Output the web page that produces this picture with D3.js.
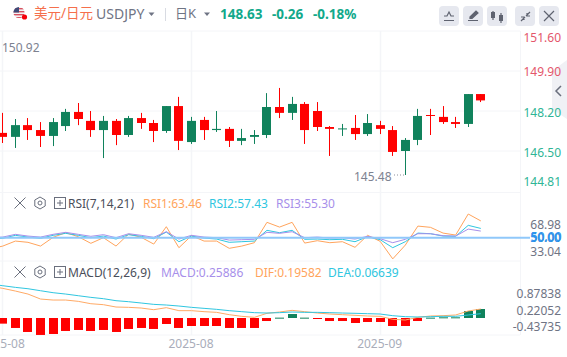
<!DOCTYPE html>
<html>
<head>
<meta charset="utf-8">
<style>
  html, body { margin: 0; padding: 0; background: #fff; overflow: hidden; }
  text { font-family: "Noto Sans", "Noto Sans CJK SC", sans-serif; }
</style>
<script src="https://cdn.jsdelivr.net/npm/d3@7"></script>
</head>
<body>
<svg width="567" height="357"></svg>
<script>
// first entry of every series sits just off the left edge
let opens = [147.30,147.27,147.10,147.60,147.39,147.14,147.56,148.16,147.78,147.39,147.78,147.18,147.90,147.69,147.35,148.41,146.88,147.82,147.39,147.44,146.93,147.10,147.18,148.37,148.12,148.50,148.20,147.52,147.44,147.48,147.22,147.60,147.39,146.50,146.97,148.03,147.95,147.73,147.65,148.92]
let closes = [147.27,147.10,147.60,147.39,147.14,147.73,148.16,147.86,147.39,147.78,147.18,147.90,147.69,147.35,148.41,146.93,147.78,147.39,147.44,146.93,147.05,147.18,148.37,148.12,148.50,147.39,147.52,147.44,147.46,147.22,147.69,147.44,146.46,146.97,147.99,148.00,147.73,147.65,148.92,148.65]
let highs = [147.50,148.12,147.86,147.90,147.73,147.90,148.29,148.54,148.20,147.99,147.86,147.99,148.12,147.82,148.41,148.80,147.95,147.95,148.20,147.52,147.44,147.39,148.96,149.18,148.80,148.58,148.58,147.56,147.65,148.03,148.07,147.78,147.56,147.05,148.29,148.29,148.41,147.95,148.92,148.92]
let lows = [147.10,146.84,146.63,146.97,146.67,146.71,147.35,147.60,147.10,146.20,146.75,147.10,147.44,146.88,147.27,146.54,146.80,146.97,147.31,146.67,146.75,146.80,147.05,147.90,147.82,146.80,147.35,146.29,147.14,146.97,147.14,147.22,146.29,145.48,146.75,147.18,147.65,147.48,147.52,148.58]

let rsi1 = [41,43.3,47.3,46.3,43.3,50.3,54,50.8,45.5,50,43.3,52.9,50.3,44.9,58.8,42,51.6,47.3,47.3,41.5,43.3,46,62.3,58.5,62.3,45.7,47.6,46,46.8,42.3,51.9,47.1,33.04,44.1,59.3,58.3,53.7,52.1,68.98,63.46]
let rsi2 = [49,49.5,51.9,50.5,49.5,51.9,53.5,51.9,50,51.3,48.9,52.4,51.1,49.2,54.5,46.8,51.3,49.7,48.9,46.3,46.8,47.3,55.9,54,55.9,48.7,48.9,48.4,48.7,46.8,50.8,48.4,42,46.8,53.7,53.2,51.3,51.1,59.9,57.43]
let rsi3 = [50,50.5,52.7,51.3,50.5,52.7,54.3,52.7,51.1,52.4,50,53.2,51.9,50.3,54.8,48.9,51.9,50.5,50,48.1,48.4,48.7,54.3,53.5,54.8,50,50.5,49.7,50,48.9,51.1,49.2,46,48.7,53.2,53.2,51.6,51.3,56.9,55.3]

let macdBars = [-.1,-.163,-.288,-.404,-.49,-.462,-.375,-.346,-.375,-.346,-.404,-.317,-.288,-.317,-.173,-.288,-.231,-.231,-.231,-.288,-.288,-.288,-.087,.01,.115,.01,-.01,-.087,-.087,-.144,-.115,-.115,-.231,-.231,-.087,.01,.02,.02,.202,.26]
let dif = [.92,.856,.779,.692,.548,.519,.519,.481,.413,.385,.317,.308,.288,.24,.298,.212,.212,.183,.163,.096,.048,.019,.135,.173,.221,.183,.144,.115,.096,.077,.058,.048,-.038,-.058,.019,.058,.067,.087,.202,.26]
let dea = [.98,.933,.885,.846,.788,.731,.692,.644,.596,.558,.5,.471,.433,.394,.375,.346,.308,.279,.25,.212,.183,.154,.144,.154,.173,.163,.163,.154,.144,.135,.125,.115,.067,.038,.029,.038,.048,.048,.087,.125]

let priceTicks = [151.60,149.90,148.20,146.50,144.81]
let priceTickColors = ['#e4566b','#e4566b','#2fb596','#2fb596','#2fb596']
let priceNudge = [7,1,2,2,-9] // labels are pushed inside the pane
let rsiTicks = [68.98,50.00,33.04]
let rsiNudge = [11,0,-7]
let macdTicks = [0.87838,0.22052,-0.43735]
let macdNudge = [6,0,-6]
let dateTicks = [1,16,31]
let dateLabels = ['2025-08','2025-08','2025-09']

let red = '#ff0000'
let green = '#10825c'
let gridColor = '#f4f5f8'

let svg = d3.select('svg')

let xScale = d3.scaleLinear().domain([1,39]).range([2.8,480.8])
let yPrice = d3.scaleLinear().domain([149.90,146.50]).range([71,151])
let yRsi = d3.scaleLinear().domain([50,68.98]).range([237.7,214])
let yMacd = d3.scaleLinear().domain([0,0.87838]).range([318,287.6])

let indexes = d3.range(opens.length)

let drawGrid = () => {
    let g = svg.append('g')
    let hLines = [31,71,111,151,192.5,261,335]
    g.selectAll('.h').data(hLines).enter().append('line')
        .attr('x1',0).attr('x2',520).attr('y1',d=>d).attr('y2',d=>d)
        .attr('stroke',gridColor).attr('stroke-width',1)
    g.selectAll('.v').data(dateTicks).enter().append('line')
        .attr('x1',d=>Math.floor(xScale(d))+.5).attr('x2',d=>Math.floor(xScale(d))+.5)
        .attr('y1',31).attr('y2',335)
        .attr('stroke',gridColor).attr('stroke-width',1.5)
    g.append('line').attr('x1',520.5).attr('x2',520.5).attr('y1',31).attr('y2',335)
        .attr('stroke',gridColor)
}

let drawCandles = () => {
    let g = svg.append('g')
    let color = i => closes[i] >= opens[i] ? green : red
    g.selectAll('.wick').data(indexes).enter().append('rect')
        .attr('x',i=>Math.floor(xScale(i)))
        .attr('width',1)
        .attr('y',i=>yPrice(highs[i]))
        .attr('height',i=>yPrice(lows[i])-yPrice(highs[i]))
        .attr('fill',color)
    g.selectAll('.body').data(indexes).enter().append('rect')
        .attr('x',i=>Math.floor(xScale(i))-4)
        .attr('width',9)
        .attr('y',i=>yPrice(Math.max(opens[i],closes[i])))
        .attr('height',i=>Math.max(1,Math.abs(yPrice(opens[i])-yPrice(closes[i]))))
        .attr('fill',color)

    svg.append('text').attr('x',2).attr('y',52).attr('font-size',12).attr('fill','#7d8290').text('150.92')
    svg.append('text').attr('x',354).attr('y',181).attr('font-size',12).attr('fill','#7d8290').text('145.48')
    svg.append('line').attr('x1',394).attr('x2',405).attr('y1',yPrice(145.48)).attr('y2',yPrice(145.48))
        .attr('stroke','#8b8f9b').attr('stroke-dasharray','1 2')
}

let drawSideTab = () => {
    svg.append('path').attr('d','M567 60 L552 71 V109 L567 119 Z').attr('fill','#f0f1f5')
    svg.append('path').attr('d','M561 86 L556 91 L561 96').attr('fill','none').attr('stroke','#6a6f7d').attr('stroke-width',1.5)
}

let rightAxis = (scale, ticks, nudge, color) => {
    let axis = d3.axisRight(scale).tickValues(ticks).tickSize(0).tickPadding(0)
        .tickFormat((d,i)=>d.toFixed(String(ticks[i]).split('.')[1] && String(ticks[i]).split('.')[1].length > 2 ? 5 : 2))
    let g = svg.append('g').attr('transform','translate(561,0)').call(axis)
    g.select('.domain').remove()
    g.selectAll('text')
        .attr('text-anchor','end')
        .attr('font-size',12)
        .attr('font-family','"Noto Sans", sans-serif')
        .attr('fill',(d,i)=>color ? color[i] : '#6f7484')
        .attr('transform',(d,i)=>'translate(0,'+nudge[i]+')')
    return g
}

let drawRsi = () => {
    let lineGen = d3.line().x((d,i)=>xScale(i)).y(d=>yRsi(d))
    let series = [[rsi1,'#ffa45c'],[rsi2,'#2fc6e0'],[rsi3,'#a78fea']]
    series.forEach(s => {
        svg.append('path').attr('d',lineGen(s[0])).attr('fill','none').attr('stroke',s[1]).attr('stroke-width',1)
    })
    svg.append('line').attr('x1',0).attr('x2',530).attr('y1',yRsi(50)).attr('y2',yRsi(50))
        .attr('stroke','#90c8fa').attr('stroke-width',2)
    rightAxis(yRsi, rsiTicks, rsiNudge)
    // the 50 marker is printed again over the label in blue
    svg.append('text').attr('x',561).attr('y',yRsi(50)+4.5).attr('text-anchor','end')
        .attr('font-size',12).attr('fill','#2d95ee').attr('font-weight',500).text('50.00')
    svg.append('text').attr('x',561.6).attr('y',yRsi(50)+3.5).attr('text-anchor','end')
        .attr('font-size',12).attr('fill','#2d95ee').attr('font-weight',500).text('50.00')
}

let drawMacd = () => {
    let color = i => macdBars[i] >= 0 ? green : red
    svg.append('g').selectAll('rect').data(indexes).enter().append('rect')
        .attr('x',i=>Math.floor(xScale(i))-4)
        .attr('width',9)
        .attr('y',i=>yMacd(Math.max(0,macdBars[i])))
        .attr('height',i=>Math.max(1,Math.abs(yMacd(macdBars[i])-yMacd(0))))
        .attr('fill',color)
    let lineGen = d3.line().x((d,i)=>xScale(i)).y(d=>yMacd(d))
    svg.append('path').attr('d',lineGen(dif)).attr('fill','none').attr('stroke','#ffaa66').attr('stroke-width',1)
    svg.append('path').attr('d',lineGen(dea)).attr('fill','none').attr('stroke','#2fc6e0').attr('stroke-width',1)
    rightAxis(yMacd, macdTicks, macdNudge)
}

let drawDates = () => {
    let axis = d3.axisBottom(xScale).tickValues(dateTicks).tickSize(0).tickPadding(0)
        .tickFormat((d,i)=>dateLabels[i])
    let g = svg.append('g').attr('transform','translate(-1,339)').call(axis)
    g.select('.domain').remove()
    g.selectAll('text').attr('font-size',12).attr('font-family','"Noto Sans", sans-serif').attr('fill','#a9adba')
}

let drawPaneTools = (y, label, items) => {
    let g = svg.append('g').attr('transform','translate(0,'+y+')')
    g.append('path').attr('d','M14.5 -5.5 L25.5 5.5 M25.5 -5.5 L14.5 5.5').attr('stroke','#6a6f7d').attr('stroke-width',1).attr('fill','none')
    g.append('path').attr('d','M40 -6 L45.2 -3 V3 L40 6 L34.8 3 V-3 Z').attr('stroke','#6a6f7d').attr('stroke-width',1).attr('fill','none')
    g.append('circle').attr('cx',40).attr('cy',0).attr('r',2).attr('stroke','#6a6f7d').attr('fill','none')
    g.append('rect').attr('x',54.5).attr('y',-5.5).attr('width',11).attr('height',11).attr('stroke','#6a6f7d').attr('fill','none')
    g.append('path').attr('d','M57 0 H63 M60 -3 V3').attr('stroke','#6a6f7d').attr('fill','none')
    g.append('text').attr('x',68).attr('y',4.5).attr('font-size',12).attr('fill','#4a4e5a').text(label)
    g.selectAll('.leg').data(items).enter().append('text')
        .attr('x',d=>d[2]).attr('y',4.5).attr('font-size',12).attr('fill',d=>d[1]).text(d=>d[0])
}

let drawHeader = () => {
    let flagClip = svg.append('clipPath').attr('id','flag')
    flagClip.append('circle').attr('cx',19).attr('cy',12.5).attr('r',5.5)
    let f = svg.append('g').attr('clip-path','url(#flag)')
    f.append('rect').attr('x',13).attr('y',7).attr('width',12).attr('height',12).attr('fill','#f3f3f5')
    f.selectAll('.st').data([8,11,14,17]).enter().append('rect')
        .attr('x',13).attr('y',d=>d).attr('width',12).attr('height',1.4).attr('fill','#d8505f')
    f.append('rect').attr('x',13).attr('y',7).attr('width',6).attr('height',5.5).attr('fill','#3f4a78')
    svg.append('circle').attr('cx',24.5).attr('cy',17).attr('r',2.6).attr('fill','#f5000a')

    svg.append('text').attr('x',34).attr('y',18).attr('font-size',13.5).attr('font-family','"Noto Sans CJK SC"').attr('fill','#f56f4c').text('美元/日元')
    svg.append('text').attr('x',96).attr('y',19).attr('font-size',14).attr('fill','#6f7484').text('USDJPY')
    svg.append('path').attr('d','M148.5 12.5 H154.5 L151.5 16 Z').attr('fill','#6f7484')
    svg.append('line').attr('x1',165.5).attr('x2',165.5).attr('y1',8).attr('y2',21).attr('stroke','#d8dbe2')
    svg.append('text').attr('x',175).attr('y',18).attr('font-size',13).attr('font-family','"Noto Sans CJK SC"').attr('fill','#6f7484').text('日K')
    svg.append('path').attr('d','M204 12.5 H210 L207 16 Z').attr('fill','#6f7484')

    let quote = [['148.63',220],['-0.26',272],['-0.18%',313]]
    svg.selectAll('.q').data(quote).enter().append('text')
        .attr('x',d=>d[1]).attr('y',18.5).attr('font-size',13.5).attr('font-weight',700)
        .attr('fill','#12a98b').text(d=>d[0])

    let buttons = [439,463,487,515,539]
    svg.selectAll('.b').data(buttons).enter().append('rect')
        .attr('x',d=>d).attr('y',6).attr('width',20).attr('height',20).attr('rx',4).attr('fill','#e6e8ef')
    let icons = [
        'M444 20.5 H454 M444 16 H447 L449 12 L451 16 H454',
        'M468 20.5 H478 M470 17 L476 11 L478 13 L472 18.5 H470 Z',
        'M493 11 V20 M501 13 V23',
        'M521 21 L525 17 M524 20 V17 H521 M530 12 L526 16 M527 13 V16 H530',
        'M544 11 L554 21 M554 11 L544 21'
    ]
    icons.forEach((d,i) => {
        svg.append('path').attr('d',d).attr('fill',i==1 ? '#5f6370' : 'none').attr('stroke','#5f6370').attr('stroke-width',1.2)
    })
    svg.append('rect').attr('x',491).attr('y',12).attr('width',4).attr('height',6).attr('fill','#5f6370')
    svg.append('rect').attr('x',499).attr('y',15).attr('width',4).attr('height',6).attr('fill','#5f6370')
}

drawGrid()
drawCandles()
drawSideTab()
rightAxis(yPrice, priceTicks, priceNudge, priceTickColors)
drawRsi()
drawMacd()
drawDates()
drawPaneTools(203,'RSI(7,14,21)',[['RSI1:63.46','#ffa45c',143],['RSI2:57.43','#2fc6e0',209],['RSI3:55.30','#a78fea',276]])
drawPaneTools(272,'MACD(12,26,9)',[['MACD:0.25886','#a78fea',161],['DIF:0.19582','#ffa45c',255],['DEA:0.06639','#2fc6e0',328]])
drawHeader()
</script>
</body>
</html>
